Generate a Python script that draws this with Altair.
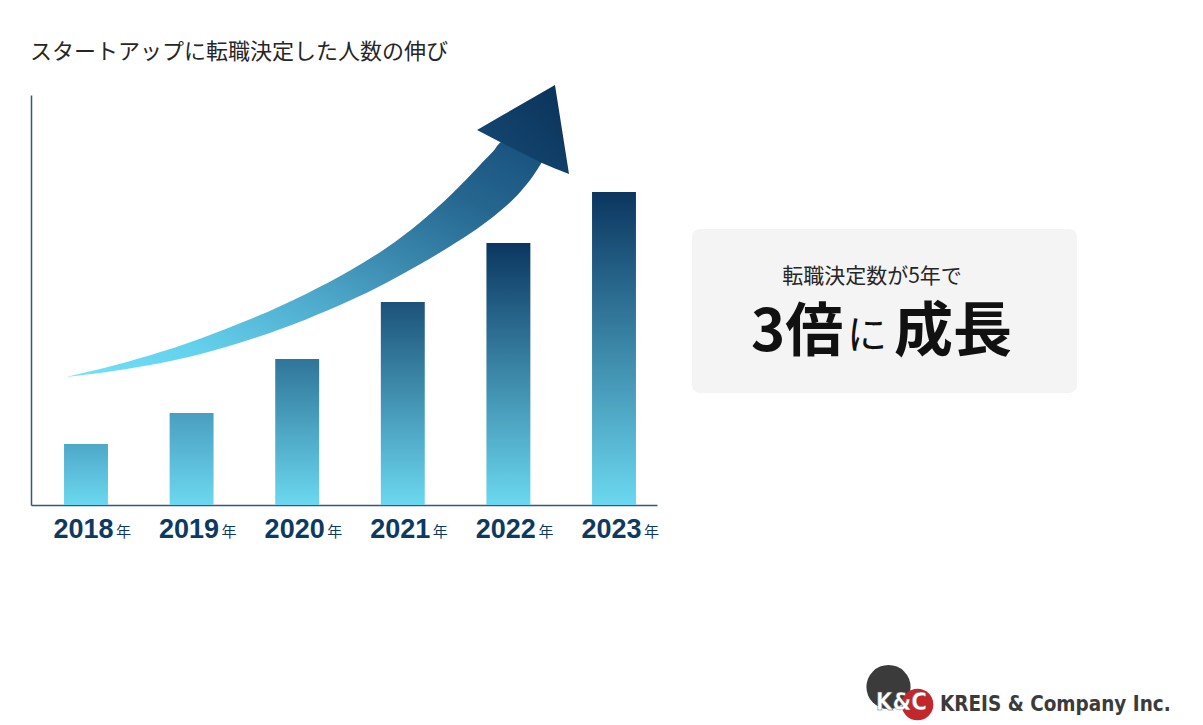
import altair as alt
import pandas as pd

# ---- data -------------------------------------------------------------
years = ["2018", "2019", "2020", "2021", "2022", "2023"]
year_suffix = "年"
hires = [61, 92, 146, 203, 262, 313]          # relative number of hires into startups

bar_base_color = "#6cd8f0"
bar_top_colors = ["#4ea8c8", "#4a9ec0", "#2f7599", "#1c5279", "#0b3660", "#0b3660"]

# trend arrow, expressed on the year axis (0 = 2018) and the value axis
shaft_x = [-0.189, 0.133, 0.606, 1.080, 1.553, 2.083, 2.5, 2.850, 3.163, 3.400,
           3.542, 3.655, 3.759, 3.854, 3.939, 4.044, 4.138, 4.233, 4.318]
shaft_hi = [128, 136, 149.7, 166.3, 185.7, 211.1, 234.5, 257.6, 282.6, 304.6,
            319.2, 331.4, 343.2, 353.5, 363, 357.5, 352.5, 347.5, 343]
shaft_lo = [128, 131.9, 139.9, 150.8, 165.5, 185.6, 204.4, 222.6, 240.8, 255.5,
            264.9, 272.8, 280.5, 288.1, 295.4, 305.4, 316.2, 329, 343]
head_x = [3.703, 3.939, 4.318, 4.441, 4.574]
head_hi = [375, 389.4, 412.5, 420, 331]
head_lo = [375, 362, 342, 336.5, 331]

title_text = "スタートアップに転職決定した人数の伸び"
box_line1 = "転職決定数が5年で"
box_big_a = "3倍"
box_small = "に"
box_big_b = "成長"
company_mark = "K&C"
company_name = "KREIS & Company Inc."

# ---- frames -----------------------------------------------------------
bars = pd.DataFrame({
    "year": years,
    "i": list(range(len(years))),
    "hires": hires,
})
bars["left"] = bars["i"] - 0.208
bars["right"] = bars["i"] + 0.208
bars["base"] = 0

shaft = pd.DataFrame({"x": shaft_x, "hi": shaft_hi, "lo": shaft_lo})
head = pd.DataFrame({"x": head_x, "hi": head_hi, "lo": head_lo})
one = pd.DataFrame({"k": [0]})

x_scale = alt.Scale(domain=[-0.5208, 5.4072], nice=False, zero=False)
y_scale = alt.Scale(domain=[0, 410], nice=False, zero=False)

NAVY = "#0d3a60"
JP = "Noto Sans CJK JP"
CONDENSED = "Liberation Sans Narrow, DejaVu Sans Condensed, Liberation Sans"

# ---- bars, each with its own vertical gradient ------------------------
bar_layers = []
for yr, top in zip(years, bar_top_colors):
    grad = alt.LinearGradient(
        gradient="linear",
        stops=[alt.GradientStop(color=bar_base_color, offset=0),
               alt.GradientStop(color=top, offset=1)],
        x1=0, x2=0, y1=1, y2=0,
    )
    bar_layers.append(
        alt.Chart(bars)
        .transform_filter(alt.datum.year == yr)
        .mark_bar(color=grad)
        .encode(
            x=alt.X("left:Q", scale=x_scale, title=None),
            x2="right:Q",
            y=alt.Y("hires:Q", scale=y_scale, title=None),
            y2="base:Q",
        )
    )

# ---- arrow ------------------------------------------------------------
shaft_grad = alt.LinearGradient(
    gradient="linear",
    stops=[alt.GradientStop(color="#74e2fa", offset=0),
           alt.GradientStop(color="#63d0ec", offset=0.2),
           alt.GradientStop(color="#4fabcd", offset=0.42),
           alt.GradientStop(color="#3a88ad", offset=0.6),
           alt.GradientStop(color="#25668f", offset=0.8),
           alt.GradientStop(color="#17507c", offset=1)],
    x1=0, y1=1, x2=1, y2=0,
)
head_grad = alt.LinearGradient(
    gradient="linear",
    stops=[alt.GradientStop(color="#164c76", offset=0),
           alt.GradientStop(color="#0a3158", offset=1)],
    x1=0, y1=1, x2=1, y2=0,
)
arrow_shaft = alt.Chart(shaft).mark_area(
    orient="vertical", interpolate="monotone", color=shaft_grad
).encode(
    x=alt.X("x:Q", scale=x_scale, title=None),
    y=alt.Y("hi:Q", scale=y_scale, title=None),
    y2="lo:Q",
)
arrow_head = alt.Chart(head).mark_area(
    orient="vertical", interpolate="linear", color=head_grad
).encode(
    x=alt.X("x:Q", scale=x_scale, title=None),
    y=alt.Y("hi:Q", scale=y_scale, title=None),
    y2="lo:Q",
)

# ---- year labels under the axis --------------------------------------
year_num = alt.Chart(bars).mark_text(
    font="Liberation Sans", fontWeight="bold", fontSize=27, color=NAVY,
    align="right", baseline="alphabetic", dx=27.5,
).encode(
    x=alt.X("i:Q", scale=x_scale, title=None),
    y=alt.value(443),
    text="year:N",
)
year_unit = alt.Chart(bars).mark_text(
    font=JP, fontSize=15, color=NAVY,
    align="left", baseline="alphabetic", dx=30,
).encode(
    x=alt.X("i:Q", scale=x_scale, title=None),
    y=alt.value(442),
    text=alt.value(year_suffix),
)

# ---- heading ----------------------------------------------------------
heading = alt.Chart(one).mark_text(
    font=JP, fontSize=22, color="#262626", align="left", baseline="middle",
).encode(x=alt.value(-1), y=alt.value(-43), text=alt.value(title_text))

# ---- call-out box -----------------------------------------------------
box = alt.Chart(one).mark_rect(color="#f4f4f4", cornerRadius=8).encode(
    x=alt.value(661), x2=alt.value(1046), y=alt.value(134), y2=alt.value(298)
)
box_t1 = alt.Chart(one).mark_text(
    font=JP, fontSize=21, color="#262626", align="center", baseline="alphabetic",
).encode(x=alt.value(841), y=alt.value(188), text=alt.value(box_line1))
box_t2 = alt.Chart(one).mark_text(
    font=JP, fontWeight="bold", fontSize=58, color="#111111",
    align="left", baseline="alphabetic",
).encode(x=alt.value(720), y=alt.value(256), text=alt.value(box_big_a))
box_t3 = alt.Chart(one).mark_text(
    font=JP, fontSize=40, color="#111111", align="center", baseline="alphabetic",
).encode(x=alt.value(836), y=alt.value(254), text=alt.value(box_small))
box_t4 = alt.Chart(one).mark_text(
    font=JP, fontWeight="bold", fontSize=59, color="#111111",
    align="left", baseline="alphabetic",
).encode(x=alt.value(863), y=alt.value(256), text=alt.value(box_big_b))

# ---- company mark -----------------------------------------------------
logo_dark = alt.Chart(one).mark_circle(color="#3b3b3b", opacity=1, size=1950).encode(
    x=alt.value(857.5), y=alt.value(592)
)
logo_red = alt.Chart(one).mark_circle(color="#c3262b", opacity=1, size=1000).encode(
    x=alt.value(886.5), y=alt.value(609.5)
)
logo_mark = alt.Chart(one).mark_text(
    font=CONDENSED, fontWeight="bold", fontSize=24, color="#ffffff",
    align="center", baseline="alphabetic", stroke="#555555", strokeWidth=0.4,
).encode(x=alt.value(870.5), y=alt.value(615), text=alt.value(company_mark))
logo_name = alt.Chart(one).mark_text(
    font=CONDENSED, fontWeight="bold", fontSize=20.5, color="#3b3b3b",
    align="left", baseline="alphabetic",
).encode(x=alt.value(909), y=alt.value(616), text=alt.value(company_name))

chart = alt.layer(
    *bar_layers, arrow_shaft, arrow_head, year_num, year_unit, heading,
    box, box_t1, box_t2, box_t3, box_t4,
    logo_dark, logo_red, logo_mark, logo_name,
).properties(
    width=626,
    height=410,
    autosize=alt.AutoSizeParams(type="none"),
    padding={"left": 31, "top": 95, "right": 546, "bottom": 220},
    background="#ffffff",
).configure_view(
    stroke=None
).configure_axis(
    labels=False, ticks=False, grid=False,
    domainColor="#2c5a84", domainWidth=1.5,
)

chart.save("out.html", embed_options={"renderer": "svg", "actions": False})
